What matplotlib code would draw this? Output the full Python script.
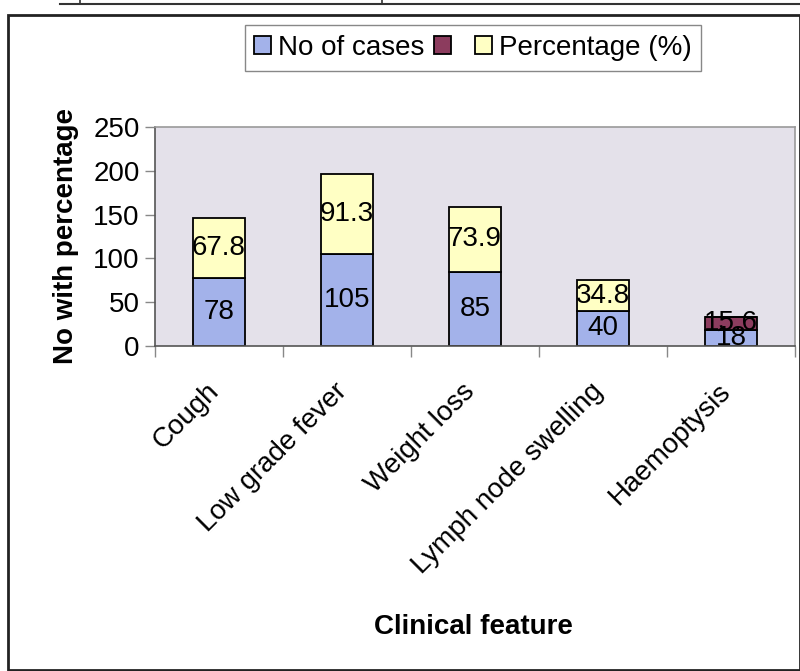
import matplotlib
matplotlib.use('Agg')
import matplotlib.pyplot as plt
import numpy as np
from matplotlib.patches import Rectangle
from matplotlib.lines import Line2D

plt.rcParams['font.family'] = ['Liberation Sans', 'DejaVu Sans']

# --- data ---
features = ['Cough', 'Low grade fever', 'Weight loss', 'Lymph node swelling', 'Haemoptysis']
cases = [78, 105, 85, 40, 18]
extra = [0, 0, 0, 0, 15.6]          # unnamed (maroon) series, only haemoptysis
percentage = [67.8, 91.3, 73.9, 34.8, 0]

C_BLUE = '#a3b2ea'
C_MAROON = '#8c3c5e'
C_YELLOW = '#ffffc4'
C_BG = '#e4e1ea'

fig = plt.figure(figsize=(8, 6.71), dpi=100)
W, H = 800, 671

# outer frame and the table remnants at the very top of the page
fig.add_artist(Rectangle((8 / W, 1 - 670 / H), 792 / W, 655 / H, transform=fig.transFigure,
                         fill=False, edgecolor='#222222', linewidth=2))
fig.add_artist(Line2D([60 / W, 1], [1 - 4 / H, 1 - 4 / H], transform=fig.transFigure,
                      color='#333333', linewidth=1.5))
for xv in [80, 382]:
    fig.add_artist(Line2D([xv / W, xv / W], [1 - 4 / H, 1], transform=fig.transFigure,
                          color='#333333', linewidth=1.2))

ax = fig.add_axes([155 / W, 1 - 346 / H, 640 / W, 219 / H])
ax.set_facecolor(C_BG)

x = np.arange(len(features))
bw = 0.4
cases = np.array(cases, dtype=float)
extra = np.array(extra, dtype=float)
percentage = np.array(percentage, dtype=float)

b1 = ax.bar(x, cases, bw, color=C_BLUE, edgecolor='black', linewidth=1.3, label='No of cases')
b2 = ax.bar(x, extra, bw, bottom=cases, color=C_MAROON, edgecolor='black', linewidth=1.3, label=' ')
b3 = ax.bar(x, percentage, bw, bottom=cases + extra, color=C_YELLOW, edgecolor='black',
            linewidth=1.3, label='Percentage (%)')

fs = 20
for i in range(len(x)):
    ax.text(x[i], cases[i] / 2, f'{cases[i]:g}', ha='center', va='center', fontsize=fs, clip_on=True)
    if extra[i] > 0:
        ax.text(x[i], cases[i] + extra[i] / 2, f'{extra[i]:g}', ha='center', va='center',
                fontsize=fs, clip_on=True)
    if percentage[i] > 0:
        ax.text(x[i], cases[i] + extra[i] + percentage[i] / 2, f'{percentage[i]:g}',
                ha='center', va='center', fontsize=fs, clip_on=True)

ax.set_xlim(-0.5, len(x) - 0.5)
ax.set_ylim(0, 250)
ax.set_yticks(np.arange(0, 251, 50))
ax.tick_params(axis='y', labelsize=fs, length=7, width=1, color='#888888', direction='out', pad=4)

# category boundaries as x ticks, names written rotated under each bar
ax.set_xticks(np.arange(-0.5, len(x), 1.0))
ax.set_xticklabels([])
ax.tick_params(axis='x', length=8, width=1, color='#888888', direction='out')
for i, name in enumerate(features):
    ax.annotate(name, xy=(x[i], 0), xycoords=('data', 'axes fraction'),
                xytext=(-3, -30), textcoords='offset points',
                rotation=45, ha='right', va='center', rotation_mode='anchor', fontsize=fs)

for s in ['top', 'right']:
    ax.spines[s].set_color('#9a9a9a')
    ax.spines[s].set_linewidth(1.2)
for s in ['left', 'bottom']:
    ax.spines[s].set_color('#555555')
    ax.spines[s].set_linewidth(1.2)

ax.set_ylabel('No with percentage', fontsize=fs, fontweight='bold', labelpad=10)
fig.text(473 / W, 1 - 627 / H, 'Clinical feature', ha='center', va='center',
         fontsize=fs, fontweight='bold')

fig.legend(handles=[b1, b2, b3], loc='center', bbox_to_anchor=(473 / W, 1 - 48 / H), ncol=3,
           fontsize=fs, frameon=True, fancybox=False, edgecolor='#888888', framealpha=1,
           handlelength=0.6, handleheight=0.6, handletextpad=0.25, columnspacing=0.35,
           borderpad=0.35, borderaxespad=0.2)

fig.savefig('out.png', dpi=100)
